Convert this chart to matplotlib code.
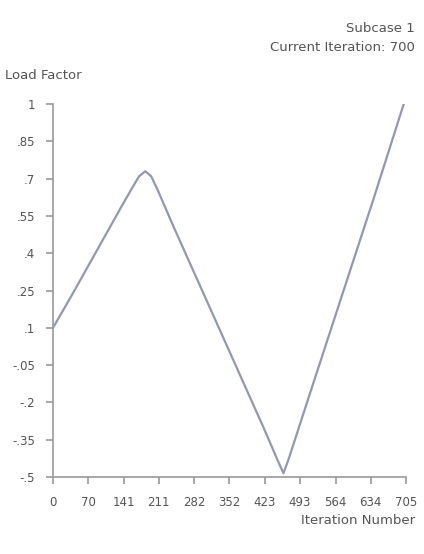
import matplotlib
matplotlib.use("Agg")
import matplotlib.pyplot as plt

# iteration history
iterations = [0, 40, 90, 140, 160, 172, 184, 196, 210, 240, 300, 360, 420, 450, 460, 470, 520, 580, 640, 700]
load_factor = [0.1, 0.24, 0.42, 0.6, 0.67, 0.71, 0.73, 0.71, 0.65, 0.51, 0.24, -0.03, -0.30, -0.44, -0.485, -0.43, -0.12, 0.25, 0.62, 1.0]

x_ticks = [0, 70, 141, 211, 282, 352, 423, 493, 564, 634, 705]
y_ticks = [1, 0.85, 0.7, 0.55, 0.4, 0.25, 0.1, -0.05, -0.2, -0.35, -0.5]
y_labels = ["1", ".85", ".7", ".55", ".4", ".25", ".1", "-.05", "-.2", "-.35", "-.5"]

axis_col = "#9a9a9a"
text_col = "#555555"

fig = plt.figure(figsize=(4.24, 5.54), dpi=100)
ax = fig.add_axes([0.125, 0.139, 0.833, 0.673])

ax.plot(iterations, load_factor, color="#9298b2", linewidth=1.6)

ax.set_xlim(0, 705)
ax.set_ylim(-0.5, 1)
ax.set_xticks(x_ticks)
ax.set_xticklabels([str(t) for t in x_ticks])
ax.set_yticks(y_ticks)
ax.set_yticklabels(y_labels)

for s in ["top", "right"]:
    ax.spines[s].set_visible(False)
for s in ["left", "bottom"]:
    ax.spines[s].set_color(axis_col)
    ax.spines[s].set_linewidth(1.2)
ax.tick_params(colors=axis_col, labelcolor=text_col, labelsize=8.5, length=5, width=1.2)
ax.tick_params(axis="x", pad=9)
ax.tick_params(axis="y", pad=8)

fig.text(0.978, 0.948, "Subcase 1", ha="right", va="center", fontsize=9.5, color=text_col)
fig.text(0.978, 0.914, "Current Iteration: 700", ha="right", va="center", fontsize=9.5, color=text_col)
fig.text(0.012, 0.863, "Load Factor", ha="left", va="center", fontsize=9.5, color=text_col)
fig.text(0.978, 0.06, "Iteration Number", ha="right", va="center", fontsize=9.5, color=text_col)

fig.savefig("out.png", dpi=100)
